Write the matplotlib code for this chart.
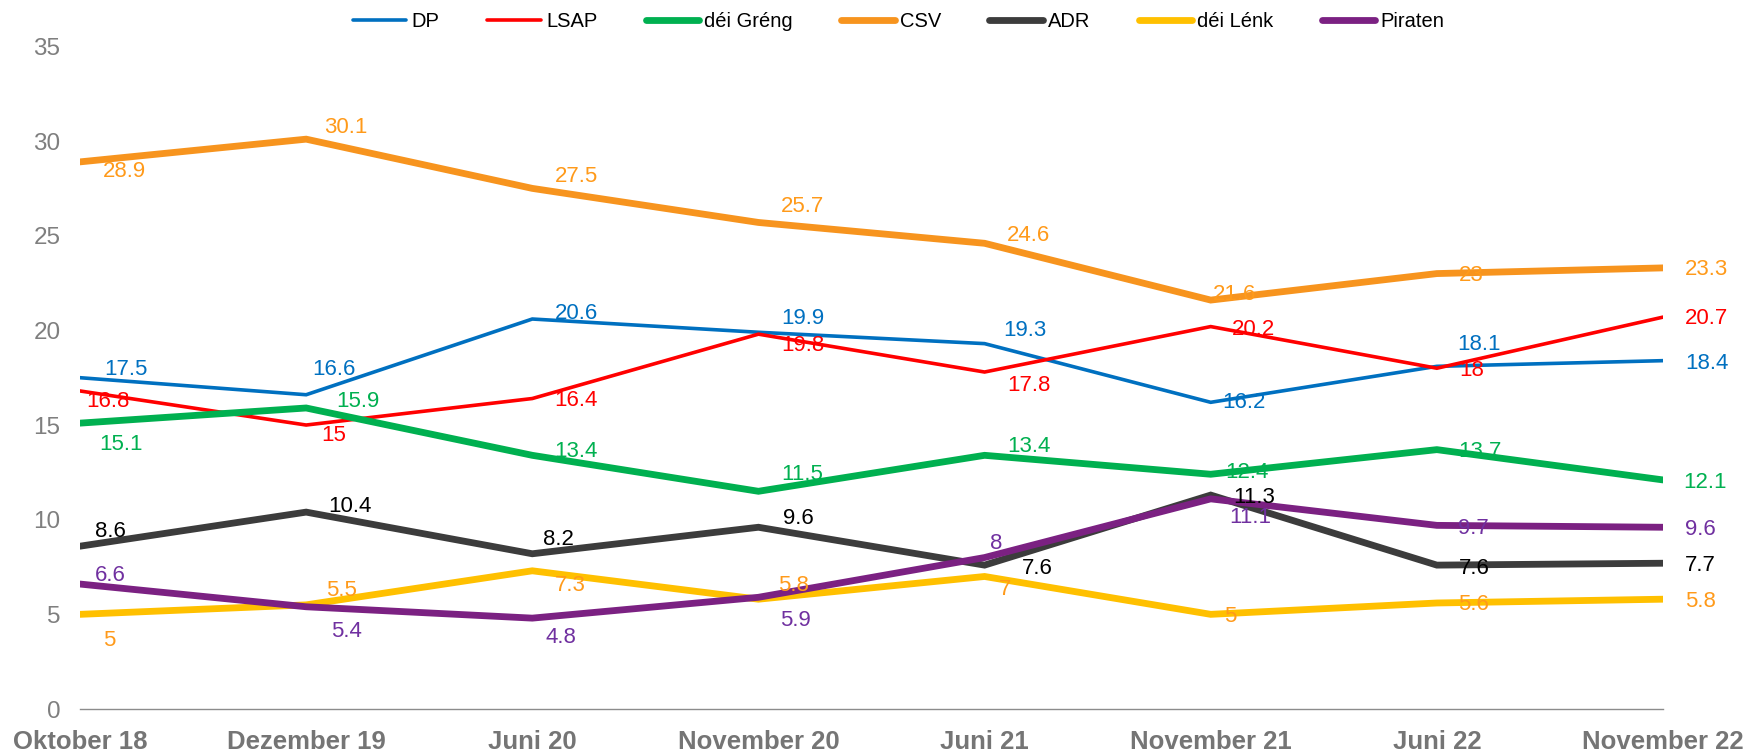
import matplotlib.pyplot as plt

plt.rcParams['font.family'] = ['Liberation Sans', 'DejaVu Sans']

months = ['Oktober 18', 'Dezember 19', 'Juni 20', 'November 20',
          'Juni 21', 'November 21', 'Juni 22', 'November 22']

dp = [17.5, 16.6, 20.6, 19.9, 19.3, 16.2, 18.1, 18.4]
lsap = [16.8, 15, 16.4, 19.8, 17.8, 20.2, 18, 20.7]
greng = [15.1, 15.9, 13.4, 11.5, 13.4, 12.4, 13.7, 12.1]
csv = [28.9, 30.1, 27.5, 25.7, 24.6, 21.6, 23, 23.3]
adr = [8.6, 10.4, 8.2, 9.6, 7.6, 11.3, 7.6, 7.7]
lenk = [5, 5.5, 7.3, 5.8, 7, 5, 5.6, 5.8]
piraten = [6.6, 5.4, 4.8, 5.9, 8, 11.1, 9.7, 9.6]

# label offsets (pixels right, pixels down) from each point
offsets = {
    'DP': [(46, -8), (28, -25), (44, -6), (44, -14), (40, -13), (33, 0), (42, -22), (44, 3)],
    'LSAP': [(28, 11), (28, 10), (44, 2), (44, 11), (44, 13), (43, 3), (35, 2), (44, 1)],
    'déi Gréng': [(41, 21), (52, -6), (44, -4), (44, -17), (44, -9), (36, -2), (43, 2), (42, 3)],
    'CSV': [(44, 10), (40, -12), (44, -12), (44, -16), (44, -8), (24, -6), (34, 2), (44, 2)],
    'ADR': [(30, -15), (44, -6), (26, -14), (40, -9), (53, 3), (43, 2), (37, 3), (37, 2)],
    'déi Lénk': [(29, 26), (35, -14), (38, 15), (35, -14), (20, 13), (20, 2), (37, 2), (38, 2)],
    'Piraten': [(30, -9), (40, 25), (29, 19), (37, 23), (12, -14), (40, 19), (37, 3), (37, 2)],
}

# name, values, line colour, label colour, line width
series = [
    ('DP', dp, '#0070C0', '#0070C0', 2.6),
    ('LSAP', lsap, '#FF0000', '#FF0000', 2.6),
    ('déi Gréng', greng, '#00B050', '#00B050', 4.9),
    ('CSV', csv, '#F7941E', '#FF9A1A', 4.9),
    ('ADR', adr, '#3C3C3C', '#000000', 4.9),
    ('déi Lénk', lenk, '#FFC000', '#FF9A1A', 4.9),
    ('Piraten', piraten, '#7B2182', '#7030A0', 4.9),
]

fig = plt.figure(figsize=(17.48, 7.53), dpi=100)
ax = fig.add_axes([80 / 1748, 1 - 709 / 753, (1663 - 80) / 1748, (709 - 46.4) / 753])

x = list(range(len(months)))
handles = []
for name, vals, col, lcol, lw in series:
    ln, = ax.plot(x, vals, color=col, lw=lw, solid_capstyle='round',
                  solid_joinstyle='miter', label=name)
    handles.append(ln)

for name, vals, col, lcol, lw in series:
    for i, v in enumerate(vals):
        dx, dy = offsets[name][i]
        ax.annotate('{:g}'.format(v), (i, v), xytext=(dx, -dy),
                    textcoords='offset pixels', ha='center', va='center',
                    fontsize=16, color=lcol, zorder=5)

ax.set_xlim(0, 7)
ax.set_ylim(0, 35)
ax.set_yticks(range(0, 36, 5))
ax.set_xticks(x)
ax.set_xticklabels(months, fontsize=18.5, fontweight='bold', color='#757575')
ax.tick_params(axis='y', length=0, pad=14, labelsize=17.5, labelcolor='#7F7F7F')
ax.tick_params(axis='x', length=0, pad=15)
for s in ['top', 'right', 'left']:
    ax.spines[s].set_visible(False)
ax.spines['bottom'].set_color('#8C8C8C')
ax.spines['bottom'].set_linewidth(1.0)

fig.legend(handles=handles, loc='center', bbox_to_anchor=(0.514, 0.972),
           ncol=7, frameon=False, fontsize=14.5, handlelength=2.66,
           handletextpad=0.25, columnspacing=2.4)

fig.savefig('out.png', dpi=100)
